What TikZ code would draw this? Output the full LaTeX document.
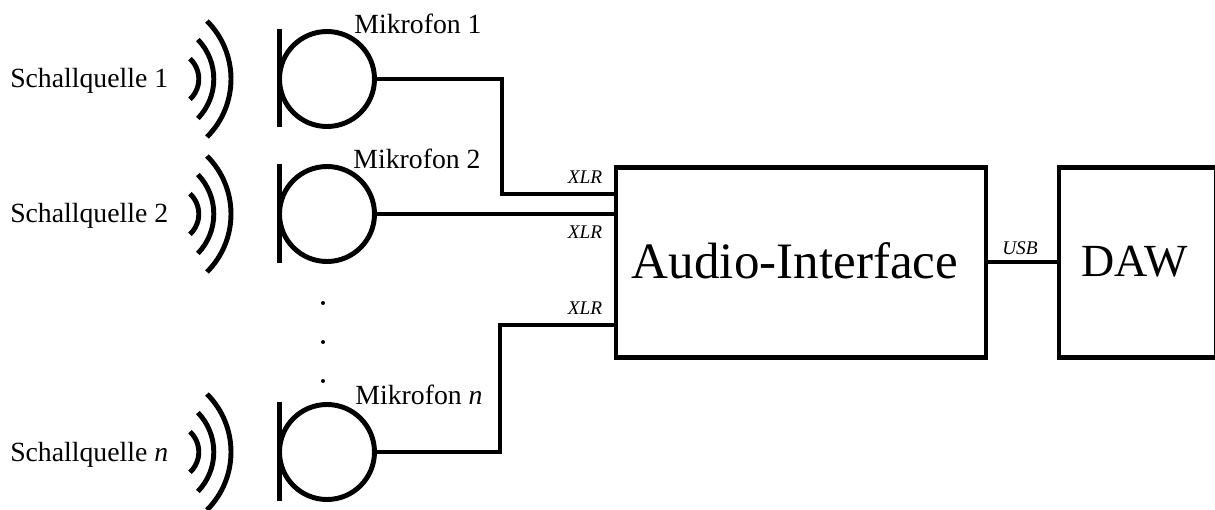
\documentclass[tikz,border=0pt]{standalone}
\usepackage{fontspec}
\setmainfont{Liberation Serif}
\usetikzlibrary{positioning,calc}
\tikzset{
  x=0.75pt, y=-0.75pt,
  wire/.style={draw=black, line width=3.7pt},
  mic/.style={
    circle, draw=black, line width=3.7pt, fill=white,
    minimum size=71.25pt, inner sep=0pt, outer sep=0pt
  },
  block/.style={
    draw=black, line width=3.7pt, inner sep=0pt, outer sep=0pt,
    minimum height=143pt, align=center, font=\fontsize{38.3}{42}\selectfont
  },
  label/.style={font=\fontsize{20.8}{24}\selectfont, inner sep=0pt},
  xlr/.style={font=\fontsize{14.5}{17}\selectfont\itshape, inner sep=0pt},
  dot/.style={circle, fill=black, minimum size=3pt, inner sep=0pt},
  wellen/.pic={
    \draw[wire] (-60,0) ++(-47:27.8) arc[start angle=-47, end angle=47, radius=27.8];
    \draw[wire] (-74,0) ++(-44:56.8) arc[start angle=-44, end angle=44, radius=56.8];
    \draw[wire] (-82,0) ++(-45:82) arc[start angle=-45, end angle=45, radius=82];
  }
}
\begin{document}
\begin{tikzpicture}
  \useasboundingbox (0,0) rectangle (1215,510);
  % Mikrofone
  \node[mic] (mic1) at (327,79) {};
  \node[mic] (mic2) at (327,214) {};
  \node[mic] (micn) at (327,452) {};
  \draw[wire] (mic1.west |- mic1.north) ++(0,-2.5) -- ($(mic1.west |- mic1.south)+(0,1)$);
  \draw[wire] (mic2.west |- mic2.north) ++(0,-2.5) -- ($(mic2.west |- mic2.south)+(0,1)$);
  \draw[wire] (micn.west |- micn.north) ++(0,-2.5) -- ($(micn.west |- micn.south)+(0,1)$);
  \node[label, anchor=base] (micl1) at (418,34) {Mikrofon 1};
  \node[label, anchor=base] (micl2) at (417,168) {Mikrofon 2};
  \node[label, anchor=base] (micln) at (419,404) {Mikrofon \textit{n}};
  % Schallquellen
  \path (231,79) pic {wellen};
  \path (231,214) pic {wellen};
  \path (231,452) pic {wellen};
  \node[label, anchor=base west] (src1) at (10,88) {Schallquelle 1};
  \node[label, anchor=base west] (src2) at (10,222) {Schallquelle 2};
  \node[label, anchor=base west] (srcn) at (10,461) {Schallquelle \textit{n}};
  % Punkte
  \node[dot] (dota) at (323,303) {};
  \node[dot] (dotb) at (323,342) {};
  \node[dot] (dotc) at (323,381) {};
  % Interface und DAW
  \node[block, minimum width=277.5pt] (audio) at (801,262.5) {\hspace*{-9pt}\raisebox{2.5pt}{Audio-Interface}};
  \node[block, minimum width=118.1pt] (daw) at (1137.75,262.5) {\hspace*{-5pt}\raisebox{2.5pt}{\fontsize{34.5}{40}\selectfont DAW}};
  \coordinate (ina) at (audio.west |- 0,194);
  \coordinate (inb) at (audio.west |- 0,214);
  \coordinate (inc) at (audio.west |- 0,325);
  \draw[wire] (mic1.east) -- (502,79) |- (ina);
  \draw[wire] (mic2.east) -- (inb);
  \draw[wire] (micn.east) -- (500,452) |- (inc);
  \draw[wire] (audio.east |- 0,262) -- (daw.west |- 0,262);
  % Anschluesse
  \node[xlr] (xlra) at (585,177) {XLR};
  \node[xlr] (xlrb) at (585,232) {XLR};
  \node[xlr] (xlrc) at (585,308) {XLR};
  \node[xlr] (usb) at (1020,248) {USB};
\end{tikzpicture}
\end{document}
